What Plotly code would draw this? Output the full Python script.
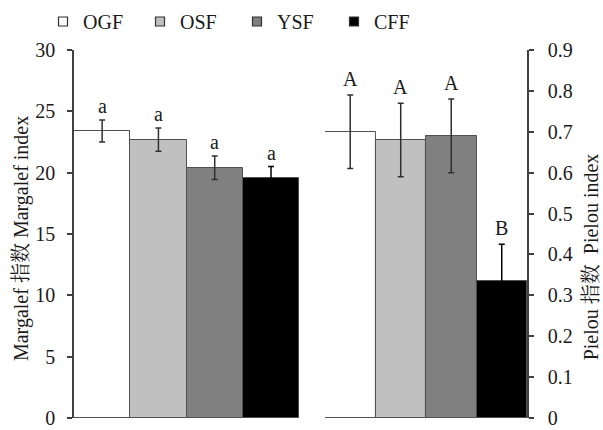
import plotly.graph_objects as go

categories = ["OGF", "OSF", "YSF", "CFF"]
margalef = [23.4, 22.7, 20.4, 19.6]
margalef_err = [0.9, 0.95, 0.95, 0.9]
margalef_letters = ["a", "a", "a", "a"]
pielou = [0.70, 0.68, 0.69, 0.335]
pielou_err = [0.09, 0.09, 0.09, 0.09]
pielou_letters = ["A", "A", "A", "B"]
colors = ["#ffffff", "#c0c0c0", "#808080", "#000000"]
err_colors = ["#303030", "#303030", "#303030", "#000000"]
left_title = "Margalef 指数 Margalef index"
right_title = "Pielou 指数  Pielou index"

FONT = "'Liberation Serif', 'Times New Roman', 'Noto Serif CJK SC', 'Noto Sans CJK SC', serif"
AXC = "#404040"
TXT = "#1a1a1a"

fig = go.Figure()
for i, c in enumerate(categories):
    fig.add_trace(go.Bar(
        x=[c], y=[margalef[i]], width=1, xaxis="x", yaxis="y",
        marker=dict(color=colors[i], line=dict(color="#505050", width=1)),
        error_y=dict(type="data", array=[margalef_err[i]], color=err_colors[i], thickness=1.5, width=3),
        showlegend=False, name=c))
    fig.add_trace(go.Bar(
        x=[c], y=[pielou[i]], width=1, xaxis="x2", yaxis="y2",
        marker=dict(color=colors[i], line=dict(color="#505050", width=1)),
        error_y=dict(type="data", array=[pielou_err[i]], color=err_colors[i], thickness=1.5, width=3),
        showlegend=False, name=c))
    fig.add_trace(go.Scatter(
        x=[None], y=[None], mode="markers", name=c,
        marker=dict(symbol="square", size=9, color=colors[i], line=dict(color="#303030", width=1.2)),
        showlegend=True))

annotations = []
for i, c in enumerate(categories):
    annotations.append(dict(x=c, y=margalef[i] + margalef_err[i], xref="x", yref="y",
                            text=margalef_letters[i], showarrow=False, yanchor="bottom",
                            yshift=1, font=dict(family=FONT, size=20, color=TXT)))
    annotations.append(dict(x=c, y=pielou[i] + pielou_err[i], xref="x2", yref="y2",
                            text=pielou_letters[i], showarrow=False, yanchor="bottom",
                            yshift=3, font=dict(family=FONT, size=20, color=TXT)))
# axis titles
annotations.append(dict(x=-0.117, y=0.489, xref="paper", yref="paper", text=left_title,
                        textangle=-90, showarrow=False, xanchor="center", yanchor="middle",
                        font=dict(family=FONT, size=20, color=TXT)))
annotations.append(dict(x=1.142, y=0.4375, xref="paper", yref="paper", text=right_title,
                        textangle=-90, showarrow=False, xanchor="center", yanchor="middle",
                        font=dict(family=FONT, size=20, color=TXT)))

fig.update_layout(
    width=603, height=430,
    margin=dict(l=74, r=76, t=50, b=12, autoexpand=False),
    paper_bgcolor="white", plot_bgcolor="white",
    barmode="overlay", bargap=0,
    font=dict(family=FONT, size=20, color=TXT),
    showlegend=True,
    legend=dict(orientation="h", x=43 / 603, xanchor="left", xref="container",
                y=1 - 2 / 430, yanchor="top", yref="container",
                entrywidth=52, entrywidthmode="pixels",
                font=dict(family=FONT, size=20, color=TXT),
                bgcolor="rgba(0,0,0,0)", itemwidth=30),
    xaxis=dict(domain=[0, 0.497], visible=False, categoryorder="array", categoryarray=categories,
               anchor="y"),
    xaxis2=dict(domain=[0.554, 1], visible=False, categoryorder="array", categoryarray=categories,
                anchor="y2"),
    yaxis=dict(domain=[0, 1], range=[0, 30], dtick=5, showgrid=False, zeroline=False,
               showline=True, linecolor=AXC, linewidth=1.5, ticks="outside", ticklen=5,
               tickcolor=AXC, tickwidth=1.5, ticklabelstandoff=8, ticklabeloverflow="allow"),
    yaxis2=dict(domain=[0, 1], range=[0, 0.9], dtick=0.1, showgrid=False, zeroline=False,
                side="right", anchor="x2",
                showline=True, linecolor=AXC, linewidth=1.5, ticks="outside", ticklen=5,
                tickcolor=AXC, tickwidth=1.5, ticklabelstandoff=10, ticklabeloverflow="allow"),
    annotations=annotations,
)

fig.write_html("out.html", config={"displayModeBar": False},
               post_script="document.body.style.margin='0px';")
